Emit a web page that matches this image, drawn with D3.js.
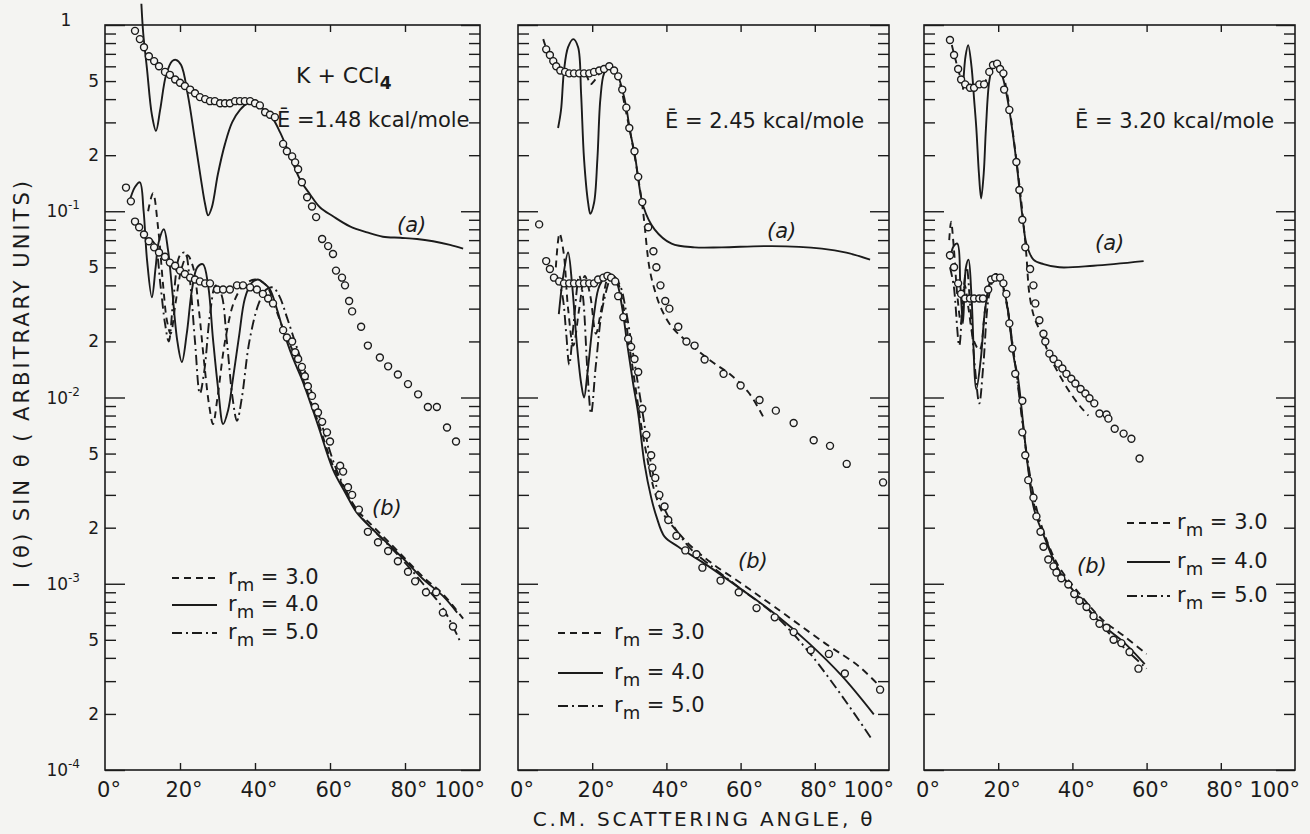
<!DOCTYPE html>
<html>
<head>
<meta charset="utf-8">
<script src="https://cdn.jsdelivr.net/npm/d3@7"></script>
<style>
  body { margin: 0; background: #f4f4f2; }
  svg { display: block; font-family: "DejaVu Sans", sans-serif; }
</style>
</head>
<body>
<svg id="chart" width="1310" height="834"></svg>
<script>
// ---- data: [angle (deg), I(θ) sin θ] ----
const angleTicks = [0, 20, 40, 60, 80, 100];
const decadeTicks = [1e-4, 1e-3, 1e-2, 1e-1, 1];
const decadeLabels = [["10", "-4"], ["10", "-3"], ["10", "-2"], ["10", "-1"], ["1", ""]];
const minorLabels = [2, 5];
const panelEnergies = ["1.48", "2.45", "3.20"];
const legendLabels = ["3.0", "4.0", "5.0"];

// panel 1, E = 1.48 kcal/mole
const p1DataA = [[8.0,0.93],[9.3,0.84],[10.4,0.76],[11.7,0.68],[13.1,0.64],[14.4,0.60],[16.0,0.56],[17.3,0.54],[18.7,0.51],[20.0,0.49],[21.3,0.47],[22.7,0.45],[24.0,0.43],[25.3,0.41],[26.7,0.40],[28.0,0.39],[29.3,0.39],[30.7,0.38],[32.0,0.38],[33.3,0.38],[34.7,0.39],[36.0,0.39],[37.3,0.39],[38.7,0.39],[40.0,0.38],[41.3,0.37],[42.7,0.34],[44.0,0.33],[45.3,0.32],[47.5,0.23],[48.5,0.21],[49.9,0.197],[50.7,0.183],[51.5,0.168],[52.5,0.143],[53.9,0.119],[55.2,0.106],[56.3,0.093],[57.9,0.071],[59.5,0.065],[60.8,0.059],[61.6,0.048],[63.2,0.044],[64.0,0.040],[65.1,0.033],[65.9,0.029],[68.3,0.024],[70.1,0.019],[73.3,0.0164],[75.5,0.0147],[78.1,0.0133],[80.8,0.0118],[83.5,0.0104],[86.1,0.0089],[88.5,0.0089],[91.2,0.0069],[93.6,0.0058]];
const p1DataB = [[5.6,0.134],[6.9,0.113],[8.0,0.088],[9.1,0.082],[10.4,0.075],[11.7,0.069],[13.1,0.064],[14.4,0.060],[16.0,0.057],[17.3,0.053],[18.7,0.051],[20.0,0.048],[21.3,0.046],[22.7,0.044],[24.0,0.043],[25.3,0.042],[26.7,0.041],[28.0,0.041],[29.9,0.038],[31.5,0.038],[33.3,0.038],[35.2,0.040],[36.8,0.040],[38.7,0.039],[40.5,0.038],[42.1,0.036],[43.5,0.034],[44.8,0.032],[47.5,0.023],[48.5,0.021],[49.9,0.020],[50.7,0.0175],[51.5,0.0161],[52.5,0.0146],[53.3,0.0130],[54.1,0.0115],[55.2,0.0102],[56.0,0.0089],[56.8,0.0083],[57.9,0.0074],[59.2,0.0065],[60.0,0.0058],[62.7,0.0043],[63.5,0.0040],[64.8,0.0033],[65.9,0.0030],[67.7,0.0025],[70.1,0.0019],[72.8,0.00167],[75.5,0.00150],[78.1,0.00132],[80.8,0.00116],[82.7,0.00103],[85.6,0.00090],[88.3,0.00090],[90.1,0.00070],[92.8,0.00059]];
const p1FitA = [[9.7,1.3],[10.2,0.9],[11.2,0.58],[12.5,0.33],[13.6,0.27],[14.7,0.35],[16.3,0.54],[17.9,0.64],[18.9,0.65],[20.3,0.61],[22.1,0.42],[24.0,0.24],[25.6,0.148],[26.7,0.109],[27.5,0.095],[28.5,0.105],[30.1,0.158],[32.0,0.23],[33.9,0.30],[36.0,0.35],[38.1,0.38],[40.3,0.38],[42.4,0.35],[44.5,0.32],[46.7,0.265],[49.3,0.20],[52.0,0.148],[54.7,0.123],[57.3,0.105],[60.8,0.094],[65.3,0.083],[69.9,0.077],[74.1,0.073],[78.7,0.072],[83.2,0.071],[87.5,0.069],[92.0,0.066],[95.5,0.063]];
const p1FitB3 = [[11.5,0.10],[12.8,0.125],[14.2,0.08],[15.5,0.040],[16.5,0.026],[17.5,0.022],[18.8,0.032],[20.5,0.050],[22.0,0.058],[23.5,0.050],[25.0,0.030],[26.5,0.015],[27.8,0.009],[28.8,0.0072],[30.0,0.010],[32.0,0.020],[34.5,0.033],[37.0,0.040],[40.0,0.043],[43.0,0.040],[45.5,0.030],[48.0,0.022],[50.5,0.0170],[52.8,0.0125],[56.8,0.0074],[60.8,0.0043],[64.0,0.0032],[67.2,0.0025],[71.5,0.00203],[76.0,0.00165],[80.4,0.00134],[84.8,0.00109],[90.1,0.00088],[95.5,0.00065]];
const p1FitB4 = [[6.4,0.111],[8.0,0.135],[9.3,0.143],[10.3,0.10],[11.2,0.055],[12.5,0.0345],[13.5,0.050],[14.3,0.068],[15.7,0.080],[16.8,0.062],[17.9,0.038],[19.3,0.020],[20.5,0.0155],[21.8,0.022],[23.2,0.038],[24.6,0.050],[26.1,0.052],[27.5,0.040],[28.8,0.0206],[30.2,0.011],[31.5,0.0072],[32.8,0.0085],[34.1,0.0125],[35.7,0.021],[37.3,0.034],[39.0,0.041],[40.8,0.043],[42.4,0.041],[44.0,0.038],[45.8,0.030],[47.5,0.023],[50.0,0.0165],[52.8,0.0121],[56.8,0.0071],[60.8,0.0041],[64.0,0.0031],[67.2,0.0024],[71.5,0.00195],[76.0,0.00160],[80.4,0.00131],[84.8,0.00106],[90.1,0.00086],[93.9,0.00070]];
const p1FitB5 = [[12.5,0.07],[13.5,0.065],[14.8,0.04],[16.0,0.025],[17.0,0.020],[18.3,0.035],[20.0,0.058],[21.3,0.060],[22.5,0.045],[24.0,0.020],[25.3,0.0105],[26.5,0.014],[28.0,0.028],[29.5,0.040],[31.0,0.036],[32.5,0.020],[34.0,0.010],[35.2,0.0075],[36.5,0.010],[38.5,0.020],[41.0,0.032],[43.0,0.038],[44.8,0.039],[46.5,0.035],[48.5,0.027],[51.0,0.019],[53.5,0.0135],[57.5,0.0075],[61.5,0.0042],[64.5,0.0031],[67.5,0.0024],[71.5,0.00195],[76.0,0.00158],[80.4,0.00127],[84.8,0.00100],[90.1,0.00074],[94.7,0.00049]];

// panel 2, E = 2.45 kcal/mole
const p2DataA = [[7.6,0.74],[8.6,0.69],[9.5,0.64],[10.3,0.60],[11.4,0.57],[12.7,0.56],[13.8,0.55],[15.1,0.55],[16.5,0.55],[17.8,0.55],[19.2,0.55],[20.5,0.56],[21.9,0.57],[23.2,0.58],[24.6,0.60],[25.9,0.57],[27.0,0.53],[28.1,0.45],[29.2,0.36],[30.0,0.28],[31.4,0.21],[32.4,0.153],[33.5,0.112],[35.1,0.082],[36.5,0.061],[37.3,0.050],[38.4,0.040],[39.7,0.033],[40.8,0.030],[43.2,0.024],[45.4,0.020],[47.6,0.019],[50.3,0.016],[55.4,0.0134],[60.0,0.0116],[65.1,0.0097],[69.5,0.0085],[74.3,0.0073],[79.7,0.0059],[84.1,0.0055],[88.6,0.0044],[98.4,0.0035]];
const p2DataB = [[5.7,0.085],[7.6,0.054],[8.6,0.049],[9.7,0.044],[11.1,0.042],[12.4,0.041],[13.8,0.041],[15.1,0.041],[16.5,0.041],[17.8,0.041],[19.2,0.041],[20.5,0.041],[21.6,0.043],[23.0,0.044],[24.1,0.045],[25.1,0.044],[26.2,0.042],[27.0,0.035],[28.4,0.027],[29.7,0.0207],[30.5,0.0187],[31.4,0.0161],[32.4,0.0137],[33.5,0.0087],[34.6,0.0063],[35.9,0.0049],[36.2,0.0042],[37.0,0.0037],[38.1,0.0030],[39.5,0.0026],[40.5,0.0022],[42.7,0.00181],[45.1,0.00151],[48.1,0.00144],[49.7,0.00122],[54.6,0.00104],[59.5,0.00090],[64.3,0.00074],[69.2,0.00066],[74.3,0.00055],[78.9,0.00044],[83.8,0.00042],[88.1,0.00033],[97.6,0.00027]];
const p2FitA = [[10.8,0.28],[11.6,0.35],[12.4,0.57],[13.5,0.76],[14.9,0.84],[16.2,0.76],[17.0,0.43],[17.8,0.191],[18.9,0.111],[19.5,0.097],[20.5,0.111],[21.4,0.191],[22.2,0.40],[23.2,0.55],[24.6,0.60],[25.9,0.57],[27.0,0.53],[28.1,0.45],[29.2,0.36],[30.2,0.27],[31.5,0.20],[33.8,0.106],[36.8,0.080],[41.4,0.067],[47.6,0.064],[54.9,0.064],[68.4,0.065],[81.9,0.063],[88.5,0.060],[94.9,0.055]];
const p2FitA3 = [[6.8,0.84],[8.5,0.68],[10.5,0.60],[13.0,0.56],[16.0,0.55],[18.5,0.53],[19.5,0.48],[20.5,0.50],[22.0,0.55],[24.6,0.60],[26.0,0.57],[27.5,0.48],[29.0,0.35],[30.5,0.25],[32.0,0.17],[33.7,0.10],[35.4,0.050],[36.8,0.038],[38.6,0.030],[41.4,0.024],[44.9,0.0205],[52.2,0.0156],[57.0,0.0134],[62.2,0.0106],[66.5,0.0076]];
const p2FitB3 = [[10.2,0.05],[11.2,0.076],[12.3,0.06],[13.5,0.03],[14.9,0.019],[16.5,0.03],[18.0,0.045],[19.5,0.035],[21.0,0.022],[22.5,0.03],[24.6,0.045],[26.5,0.043],[28.5,0.030],[30.0,0.019],[31.5,0.012],[33.0,0.0075],[34.6,0.0050],[36.5,0.0033],[39.0,0.0024],[43.0,0.0019],[46.8,0.00158],[52.0,0.00130],[60.3,0.00100],[69.2,0.00075],[82.7,0.00048],[91.9,0.00036],[97.6,0.00028]];
const p2FitB4 = [[11.0,0.028],[12.2,0.045],[13.5,0.060],[14.6,0.040],[15.8,0.020],[17.0,0.012],[17.8,0.0100],[18.8,0.014],[20.5,0.028],[22.0,0.040],[24.6,0.046],[26.5,0.042],[28.0,0.031],[29.5,0.019],[31.0,0.012],[32.4,0.0082],[34.1,0.0044],[35.9,0.0029],[37.3,0.0023],[39.5,0.00179],[43.2,0.00158],[51.4,0.00124],[60.3,0.00093],[69.2,0.00069],[78.4,0.00048],[87.3,0.00032],[95.9,0.000199]];
const p2FitB5 = [[10.5,0.045],[12.0,0.035],[13.0,0.022],[13.8,0.015],[15.0,0.025],[16.5,0.045],[17.5,0.035],[18.7,0.014],[19.7,0.0082],[21.0,0.015],[23.0,0.032],[25.5,0.045],[27.5,0.040],[29.0,0.030],[30.5,0.020],[32.0,0.013],[33.5,0.0085],[35.0,0.0055],[37.0,0.0035],[40.0,0.0024],[43.0,0.0019],[46.8,0.00152],[52.0,0.00125],[60.3,0.00093],[69.2,0.00068],[78.4,0.00043],[87.3,0.00025],[95.4,0.000146]];

// panel 3, E = 3.20 kcal/mole
const p3DataA = [[7.0,0.83],[8.1,0.69],[9.2,0.58],[10.0,0.51],[11.1,0.48],[12.4,0.46],[13.5,0.46],[14.9,0.48],[16.2,0.48],[17.6,0.56],[18.6,0.61],[19.7,0.62],[20.5,0.58],[21.4,0.55],[21.6,0.45],[23.0,0.35],[24.9,0.184],[25.7,0.130],[26.5,0.090],[27.3,0.064],[28.6,0.049],[29.5,0.040],[30.0,0.032],[31.1,0.026],[32.2,0.022],[32.7,0.020],[33.8,0.0172],[34.9,0.0161],[36.2,0.0152],[37.3,0.0143],[38.4,0.0134],[39.7,0.0126],[40.8,0.0119],[42.2,0.0111],[43.5,0.0105],[44.6,0.0099],[45.9,0.0093],[47.3,0.0082],[49.2,0.0081],[49.7,0.0077],[51.4,0.0068],[53.8,0.0064],[55.9,0.0060],[58.1,0.0047]];
const p3DataB = [[7.0,0.058],[8.1,0.050],[9.2,0.041],[10.0,0.036],[11.1,0.034],[12.4,0.034],[13.5,0.034],[14.9,0.034],[15.9,0.034],[17.3,0.038],[18.1,0.043],[19.2,0.044],[20.5,0.044],[21.4,0.041],[22.2,0.036],[23.0,0.025],[23.8,0.0183],[24.6,0.0134],[26.5,0.0096],[26.5,0.0065],[27.3,0.0049],[28.1,0.0036],[29.5,0.0029],[30.3,0.0023],[31.4,0.0019],[32.2,0.00158],[33.5,0.00135],[34.9,0.00124],[35.7,0.00115],[37.0,0.00107],[38.9,0.00099],[40.5,0.00088],[41.9,0.00081],[43.8,0.00075],[45.7,0.00067],[47.3,0.00061],[49.2,0.00058],[51.1,0.00050],[53.2,0.00048],[55.4,0.00043],[57.8,0.00035]];
const p3FitA = [[10.5,0.45],[11.2,0.68],[11.9,0.78],[12.8,0.60],[13.5,0.40],[14.1,0.28],[14.8,0.16],[15.4,0.117],[16.1,0.16],[16.7,0.28],[17.6,0.50],[18.6,0.60],[19.6,0.62],[20.5,0.58],[21.5,0.50],[23.0,0.35],[24.9,0.185],[26.5,0.095],[27.6,0.067],[29.5,0.055],[32.2,0.052],[36.5,0.050],[45.7,0.051],[59.2,0.054]];
const p3FitA3 = [[7.5,0.78],[8.5,0.65],[10.0,0.52],[12.0,0.47],[14.0,0.46],[16.0,0.48],[17.6,0.55],[19.6,0.62],[21.0,0.57],[22.5,0.42],[24.0,0.26],[25.5,0.15],[26.5,0.10],[27.6,0.058],[28.4,0.036],[29.7,0.027],[31.6,0.022],[34.0,0.0165],[38.4,0.0114],[42.0,0.0090],[44.3,0.0080]];
const p3FitB3 = [[6.8,0.07],[7.3,0.088],[8.0,0.065],[9.0,0.035],[10.0,0.025],[11.0,0.04],[12.0,0.03],[13.5,0.02],[15.0,0.018],[16.5,0.03],[18.1,0.043],[19.6,0.046],[21.0,0.040],[22.5,0.030],[24.0,0.018],[25.3,0.012],[26.8,0.0068],[28.1,0.0042],[30.0,0.0025],[32.4,0.00185],[36.2,0.00125],[41.6,0.00090],[47.8,0.00065],[54.1,0.00052],[60.0,0.00042]];
const p3FitB4 = [[7.0,0.055],[8.0,0.065],[9.0,0.067],[9.8,0.04],[10.5,0.025],[11.3,0.05],[12.0,0.055],[12.8,0.035],[14.1,0.0111],[15.3,0.016],[16.5,0.03],[18.1,0.043],[19.5,0.046],[21.0,0.041],[22.2,0.033],[24.3,0.016],[25.3,0.0129],[26.8,0.0070],[28.1,0.0041],[29.7,0.0025],[32.4,0.00179],[36.2,0.00119],[41.6,0.00085],[47.8,0.00061],[54.1,0.00048],[59.5,0.00037]];
const p3FitB5 = [[7.0,0.05],[8.0,0.04],[9.5,0.019],[10.5,0.035],[11.5,0.05],[12.5,0.03],[13.8,0.014],[14.9,0.0093],[16.0,0.015],[17.5,0.035],[19.2,0.045],[20.5,0.043],[22.0,0.035],[23.5,0.022],[25.0,0.013],[26.5,0.0075],[28.0,0.0045],[30.0,0.0027],[32.4,0.00185],[36.2,0.00120],[41.6,0.00085],[47.8,0.00060],[54.1,0.00045],[60.0,0.00035]];

// ---- layout ----
const INK = "#1b1b1b", PAPER = "#f4f4f2";
const TOP = 25, BOTTOM = 770;
const dashStyles = ["7,5", null, "10,4,2,4"];   // r_m = 3.0, 4.0, 5.0

const panels = [
  { x0: 105, x1: 480, dataA: p1DataA, dataB: p1DataB, fitsA: [[p1FitA, 1]], fitsB: [p1FitB3, p1FitB4, p1FitB5],
    energy: { x: 277, y: 127 }, labA: { x: 397, y: 232 }, labB: { x: 372, y: 515 },
    legend: { x: 172, len: 45, tx: 228, ys: [578, 605, 633] } },
  { x0: 518, x1: 889, dataA: p2DataA, dataB: p2DataB, fitsA: [[p2FitA, 1], [p2FitA3, 0]], fitsB: [p2FitB3, p2FitB4, p2FitB5],
    energy: { x: 665, y: 128 }, labA: { x: 767, y: 238 }, labB: { x: 738, y: 568 },
    legend: { x: 558, len: 45, tx: 614, ys: [633, 673, 706] } },
  { x0: 924, x1: 1295, dataA: p3DataA, dataB: p3DataB, fitsA: [[p3FitA, 1], [p3FitA3, 0]], fitsB: [p3FitB3, p3FitB4, p3FitB5],
    energy: { x: 1075, y: 128 }, labA: { x: 1095, y: 250 }, labB: { x: 1077, y: 573 },
    legend: { x: 1127, len: 43, tx: 1177, ys: [523, 562, 596] } }
];

const svg = d3.select("#chart");
svg.append("rect").attr("width", 1310).attr("height", 834).attr("fill", PAPER);

const y = d3.scaleLog().domain([1e-4, 1]).range([BOTTOM, TOP]);
const minorTicks = [];
for (let e = -4; e < 0; e++) for (let m = 2; m <= 9; m++) minorTicks.push(m * Math.pow(10, e));

panels.forEach((p, i) => {
  const x = d3.scaleLinear().domain([0, 100]).range([p.x0, p.x1]);
  const g = svg.append("g");
  const line = d3.line().x(d => x(d[0])).y(d => y(d[1])).curve(d3.curveCatmullRom.alpha(0.5));

  // frame
  g.append("rect").attr("x", p.x0).attr("y", TOP).attr("width", p.x1 - p.x0).attr("height", BOTTOM - TOP)
    .attr("fill", "none").attr("stroke", INK).attr("stroke-width", 1.6);

  // inward ticks on all four sides
  const tickAxis = (axis, tx, ty) => {
    const a = g.append("g").attr("transform", `translate(${tx},${ty})`).call(axis);
    a.select(".domain").remove();
    a.selectAll("line").attr("stroke", INK).attr("stroke-width", 1.4);
  };
  tickAxis(d3.axisRight(y).tickValues(decadeTicks).tickSize(20).tickFormat(""), p.x0, 0);
  tickAxis(d3.axisRight(y).tickValues(minorTicks).tickSize(11).tickFormat(""), p.x0, 0);
  tickAxis(d3.axisLeft(y).tickValues(decadeTicks).tickSize(19).tickFormat(""), p.x1, 0);
  tickAxis(d3.axisLeft(y).tickValues(minorTicks).tickSize(11).tickFormat(""), p.x1, 0);
  tickAxis(d3.axisBottom(x).tickValues([20, 40, 60, 80]).tickSize(7).tickFormat(""), 0, TOP);
  tickAxis(d3.axisTop(x).tickValues([20, 40, 60, 80]).tickSize(7).tickFormat(""), 0, BOTTOM);

  // angle labels
  g.selectAll("text.xt").data(angleTicks).join("text")
    .attr("x", d => d === 100 ? x(d) + 5 : x(d) + 4)
    .attr("y", 797)
    .attr("text-anchor", d => d === 100 ? "end" : "middle")
    .attr("font-size", 21).attr("fill", INK)
    .text(d => d + "°");

  // fitted curves
  p.fitsA.forEach(([pts, solid]) => {
    g.append("path").attr("d", line(pts)).attr("fill", "none").attr("stroke", INK)
      .attr("stroke-width", 1.9).attr("stroke-dasharray", solid ? null : dashStyles[0]);
  });
  p.fitsB.forEach((pts, k) => {
    g.append("path").attr("d", line(pts)).attr("fill", "none").attr("stroke", INK)
      .attr("stroke-width", 1.9).attr("stroke-dasharray", dashStyles[k]);
  });

  // measured points
  [p.dataA, p.dataB].forEach(data => {
    g.selectAll(null).data(data).join("circle")
      .attr("cx", d => x(d[0])).attr("cy", d => y(d[1])).attr("r", 3.5)
      .attr("fill", PAPER).attr("stroke", INK).attr("stroke-width", 1.4);
  });

  // energy annotation
  g.append("text").attr("x", p.energy.x).attr("y", p.energy.y).attr("font-size", 21).attr("fill", INK)
    .text(i === 0 ? `Ē =${panelEnergies[i]} kcal/mole` : `Ē = ${panelEnergies[i]} kcal/mole`);

  g.append("text").attr("x", p.labA.x).attr("y", p.labA.y).attr("font-size", 21).attr("font-style", "italic")
    .attr("fill", INK).text("(a)");
  g.append("text").attr("x", p.labB.x).attr("y", p.labB.y).attr("font-size", 21).attr("font-style", "italic")
    .attr("fill", INK).text("(b)");

  // legend
  legendLabels.forEach((lab, k) => {
    const ly = p.legend.ys[k];
    g.append("line").attr("x1", p.legend.x).attr("x2", p.legend.x + p.legend.len)
      .attr("y1", ly).attr("y2", ly).attr("stroke", INK).attr("stroke-width", 1.9)
      .attr("stroke-dasharray", dashStyles[k]);
    const t = g.append("text").attr("x", p.legend.tx).attr("y", ly + 6).attr("font-size", 21).attr("fill", INK);
    t.append("tspan").text("r");
    t.append("tspan").attr("dy", 7).attr("font-size", 18).text("m");
    t.append("tspan").attr("dy", -7).text(" = " + lab);
  });
});

// title of panel 1
const title = svg.append("text").attr("x", 296).attr("y", 83).attr("font-size", 22).attr("fill", INK);
title.append("tspan").text("K + CCl");
title.append("tspan").attr("dy", 6).attr("font-size", 17).attr("font-weight", "bold").text("4");

// y tick labels (left of panel 1)
decadeTicks.forEach((v, k) => {
  const [base, sup] = decadeLabels[k];
  const t = svg.append("text").attr("font-size", 17).attr("fill", INK);
  if (sup) {
    t.attr("x", 80).attr("y", y(v) + 6).attr("text-anchor", "end");
    t.append("tspan").text(base);
    t.append("tspan").attr("dy", -8).attr("font-size", 12).text(sup);
  } else {
    t.attr("x", 66).attr("y", y(v) + 1).attr("text-anchor", "middle").text(base);
  }
});
for (let e = -4; e < 0; e++) {
  minorLabels.forEach(m => {
    svg.append("text").attr("x", 99).attr("y", y(m * Math.pow(10, e)) + 6).attr("text-anchor", "end")
      .attr("font-size", 17).attr("fill", INK).text(m);
  });
}

// axis titles
svg.append("text").attr("transform", "translate(29,383) rotate(-90)").attr("text-anchor", "middle")
  .attr("font-size", 21).attr("letter-spacing", 3).attr("fill", INK)
  .text("I (θ) SIN θ ( ARBITRARY UNITS)");
svg.append("text").attr("x", 704).attr("y", 826).attr("text-anchor", "middle")
  .attr("font-size", 20).attr("letter-spacing", 2.8).attr("fill", INK)
  .text("C.M. SCATTERING ANGLE, θ");
</script>
</body>
</html>
